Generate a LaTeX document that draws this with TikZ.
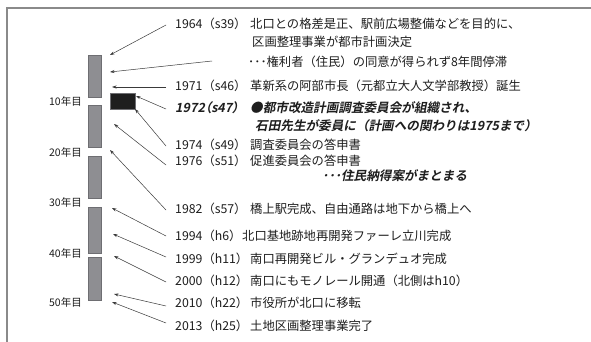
\documentclass[tikz,border=0pt]{standalone}
\usepackage{fontspec}
\setmainfont{Noto Sans CJK JP}
\newfontfamily\bifont{Noto Sans CJK JP Bold}[FakeSlant=0.2]
\newfontfamily\bifontp{Noto Sans CJK JP Bold}[FakeSlant=0.2,RawFeature=+palt]
\usetikzlibrary{arrows.meta}
\definecolor{txt}{HTML}{1E1E1E}
\definecolor{barfill}{HTML}{8E8E92}
\definecolor{bardraw}{HTML}{6E6E72}
\definecolor{frame}{HTML}{8A8A8A}
\definecolor{arrc}{HTML}{3A3A3A}
\tikzset{
  yearlbl/.style={anchor=west,inner sep=0pt,text height=0.88em,text depth=0.12em,font=\fontsize{12.3}{14}\selectfont,text=txt},
  evtxt/.style={anchor=west,inner sep=0pt,text height=0.88em,text depth=0.12em,font=\fontsize{12.3}{14}\selectfont,text=txt},
  bitxt/.style={anchor=west,inner sep=0pt,text height=0.88em,text depth=0.12em,font=\bifont\fontsize{12.6}{14}\selectfont,text=txt},
  biyear/.style={anchor=west,inner sep=0pt,text height=0.88em,text depth=0.12em,font=\bifontp\fontsize{12.6}{14}\selectfont,text=txt},
  agelbl/.style={anchor=east,inner sep=0pt,text height=0.88em,text depth=0.12em,font=\fontsize{10.5}{12}\selectfont,text=txt},
  barbox/.style={fill=barfill,draw=bardraw,line width=0.5pt,inner sep=0pt,minimum width=13pt},
  arr/.style={draw=arrc,line width=0.5pt,-{Stealth[length=4.5pt,width=3pt]}},
}
\begin{document}
\begin{tikzpicture}[x=1pt,y=-1pt]
\useasboundingbox (0,0) rectangle (591,342);
\fill[white] (0,0) rectangle (591,342);
% frame
\draw[frame,line width=1.6pt] (7,342) -- (7,8) -- (591,8);
% bars
\node[barbox,minimum height=42pt] (b1) at (94.5,76) {};
\node[barbox,minimum height=42pt] (b2) at (94.5,126) {};
\node[barbox,minimum height=42pt] (b3) at (94.5,177) {};
\node[barbox,minimum height=46pt] (b4) at (94.5,230) {};
\node[barbox,minimum height=43pt] (b5) at (94.5,278.5) {};
% black box
\node[fill=txt,draw=bardraw,line width=0.8pt,minimum width=25pt,minimum height=16pt,inner sep=0pt] (blk) at (122.5,101) {};
% age labels
\node[agelbl] (a10) at (82,102) {10年目};
\node[agelbl] (a20) at (82,153) {20年目};
\node[agelbl] (a30) at (82,203) {30年目};
\node[agelbl] (a40) at (82,254) {40年目};
\node[agelbl] (a50) at (82,303) {50年目};
% events
\node[yearlbl] (y64) at (175,25) {1964（s39）};
\node[evtxt] (e64a) at (250,25) {北口との格差是正、駅前広場整備などを目的に、};
\node[evtxt] (e64b) at (252,43) {区画整理事業が都市計画決定};
\node[evtxt] (e64c) at (248,63) {･･･権利者（住民）の同意が得られず8年間停滞};
\coordinate (s64c) at (212,61);
\node[yearlbl] (y71) at (175,87) {1971（s46）};
\node[evtxt] (e71) at (250,87) {革新系の阿部市長（元都立大人文学部教授）誕生};
\node[biyear] (y72) at (175,109) {1972（s47）};
\node[bitxt] (e72a) at (250,109) {●都市改造計画調査委員会が組織され、};
\node[bitxt] (e72b) at (255,127) {石田先生が委員に（計画への関わりは1975まで）};
\node[yearlbl] (y74) at (175,146) {1974（s49）};
\node[evtxt] (e74) at (250,146) {調査委員会の答申書};
\node[yearlbl] (y76) at (175,162) {1976（s51）};
\node[evtxt] (e76) at (250,162) {促進委員会の答申書};
\node[bitxt] (e76b) at (322,177) {･･･住民納得案がまとまる};
\node[yearlbl] (y82) at (175,210) {1982（s57）};
\node[evtxt] (e82) at (250,210) {橋上駅完成、自由通路は地下から橋上へ};
\node[yearlbl] (y94) at (175,237) {1994（h6）};
\node[evtxt] (e94) at (242,237) {北口基地跡地再開発ファーレ立川完成};
\node[yearlbl] (y99) at (175,260) {1999（h11）};
\node[evtxt] (e99) at (250,260) {南口再開発ビル・グランデュオ完成};
\node[yearlbl] (y00) at (175,282) {2000（h12）};
\node[evtxt] (e00) at (250,282) {南口にもモノレール開通（北側はh10）};
\node[yearlbl] (y10) at (175,304) {2010（h22）};
\node[evtxt] (e10) at (250,304) {市役所が北口に移転};
\node[yearlbl] (y13) at (175,327) {2013（h25）};
\node[evtxt] (e13) at (250,327) {土地区画整理事業完了};
% arrow targets
\coordinate (t64) at (110,55);
\coordinate (t64c) at (110,72);
\coordinate (t71) at (112,87);
\coordinate (t72) at (136,96);
\coordinate (t74) at (135,109);
\coordinate (t76) at (114,124);
\coordinate (t82) at (110,150);
\coordinate (t94) at (112,208);
\coordinate (t99) at (113,234);
\coordinate (t00) at (114,256);
\coordinate (t10) at (114,294);
\coordinate (t13) at (112,302);
% arrows
\draw[arr] ([xshift=-9pt]y64.west) -- (t64);
\draw[arr] (s64c) -- (t64c);
\draw[arr] ([xshift=-9pt]y71.west) -- (t71);
\draw[arr] ([xshift=-9pt]y72.west) -- (t72);
\draw[arr] ([xshift=-9pt]y74.west) -- (t74);
\draw[arr] ([xshift=-9pt,yshift=-3pt]y76.west) -- (t76);
\draw[arr] ([xshift=-9pt]y82.west) -- (t82);
\draw[arr] ([xshift=-9pt,yshift=1pt]y94.west) -- (t94);
\draw[arr] ([xshift=-9pt,yshift=3pt]y99.west) -- (t99);
\draw[arr] ([xshift=-9pt]y00.west) -- (t00);
\draw[arr] ([xshift=-9pt,yshift=-2pt]y10.west) -- (t10);
\draw[arr] ([xshift=-9pt,yshift=4pt]y13.west) -- (t13);
\end{tikzpicture}
\end{document}
